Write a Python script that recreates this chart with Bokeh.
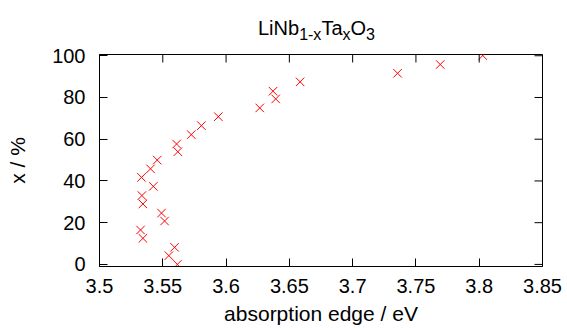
from bokeh.plotting import figure
from bokeh.models import FixedTicker, Range1d, Div
from bokeh.layouts import column
from bokeh.embed import file_html
from bokeh.resources import INLINE

# data: absorption edge (eV) vs Ta content x (%)
edge = [3.5324, 3.5343, 3.5332, 3.5403, 3.5456, 3.5425, 3.5335, 3.5343,
        3.5490, 3.5514, 3.5593, 3.5548, 3.5615, 3.5609, 3.5619, 3.5725,
        3.5805, 3.5939, 3.6266, 3.6371, 3.6392, 3.6585, 3.7355, 3.7692,
        3.8028]
xpct = [16.5, 12.5, 41.7, 45.8, 50.0, 37.4, 33.0, 29.0,
        24.6, 20.8, 8.2, 4.2, 0.0, 57.7, 54.0, 62.2,
        66.5, 70.8, 75.0, 83.0, 79.3, 87.5, 91.6, 95.8,
        100.1]

x_ticks = [3.5, 3.55, 3.6, 3.65, 3.7, 3.75, 3.8, 3.85]
x_tick_labels = ["3.5", "3.55", "3.6", "3.65", "3.7", "3.75", "3.8", "3.85"]
y_ticks = [0, 20, 40, 60, 80, 100]

FONT = "Liberation Sans"
TICK_PX = 8

title_html = (
    "<div style=\"padding-left:258px; padding-top:18px; font-family:'Liberation Sans';"
    " font-size:20px; line-height:20px; white-space:nowrap; color:black\">"
    "LiNb<span style=\"font-size:16px; position:relative; top:5px\">1-x</span>"
    "Ta<span style=\"font-size:16px; position:relative; top:5px\">x</span>"
    "O<span style=\"font-size:16px; position:relative; top:5px\">3</span></div>"
)
title = Div(text=title_html, width=567, height=46, margin=(0, 0, 0, 0))

W, H = 567, 284
BL, BR, BT, BB = 99, 25, 8, 64
xr = Range1d(3.5, 3.85)
yr = Range1d(-1, 100.6)
p = figure(width=W, height=H, output_backend="svg", toolbar_location=None,
           x_range=xr, y_range=yr,
           min_border_left=BL, min_border_right=BR, min_border_top=BT,
           min_border_bottom=BB, background_fill_color="white",
           border_fill_color="white", outline_line_color="black",
           outline_line_width=1, margin=(0, 0, 0, 0))
p.xgrid.visible = False
p.ygrid.visible = False

p.scatter(edge, xpct, marker="x", size=12, line_color="#ff0000", line_width=1,
          fill_color=None, fill_alpha=0)

# mirrored ticks on the top and right frame edges (tick length in pixels -> data units)
dy = TICK_PX * (yr.end - yr.start) / (H - BT - BB)
dx = TICK_PX * (xr.end - xr.start) / (W - BL - BR)
p.segment(x0=x_ticks, x1=x_ticks, y0=[yr.end] * len(x_ticks),
          y1=[yr.end - dy] * len(x_ticks), line_color="black", line_width=1)
p.segment(x0=[xr.end] * len(y_ticks), x1=[xr.end - dx] * len(y_ticks),
          y0=y_ticks, y1=y_ticks, line_color="black", line_width=1)

def style_axis(ax, ticks, labels=None):
    ax.ticker = FixedTicker(ticks=ticks)
    if labels is not None:
        ax.major_label_overrides = {t: l for t, l in zip(ticks, labels)}
    ax.major_tick_in = TICK_PX
    ax.major_tick_out = 0
    ax.minor_tick_in = 0
    ax.minor_tick_out = 0
    ax.axis_line_color = "black"
    ax.major_tick_line_color = "black"
    ax.major_label_text_font = FONT
    ax.major_label_text_color = "black"
    ax.major_label_text_font_size = "20px"
    ax.axis_label_text_font = FONT
    ax.axis_label_text_font_style = "normal"
    ax.axis_label_text_color = "black"
    ax.axis_label_text_font_size = "21px"

xa = p.xaxis[0]
style_axis(xa, x_ticks, x_tick_labels)
xa.axis_label = "absorption edge / eV"
xa.major_label_standoff = 12
xa.axis_label_standoff = 6

ya = p.yaxis[0]
style_axis(ya, y_ticks)
ya.axis_label = "x / %"
ya.major_label_standoff = 14
ya.axis_label_standoff = 20

layout = column(title, p, spacing=0)
open("out.html", "w").write(file_html(layout, INLINE))
